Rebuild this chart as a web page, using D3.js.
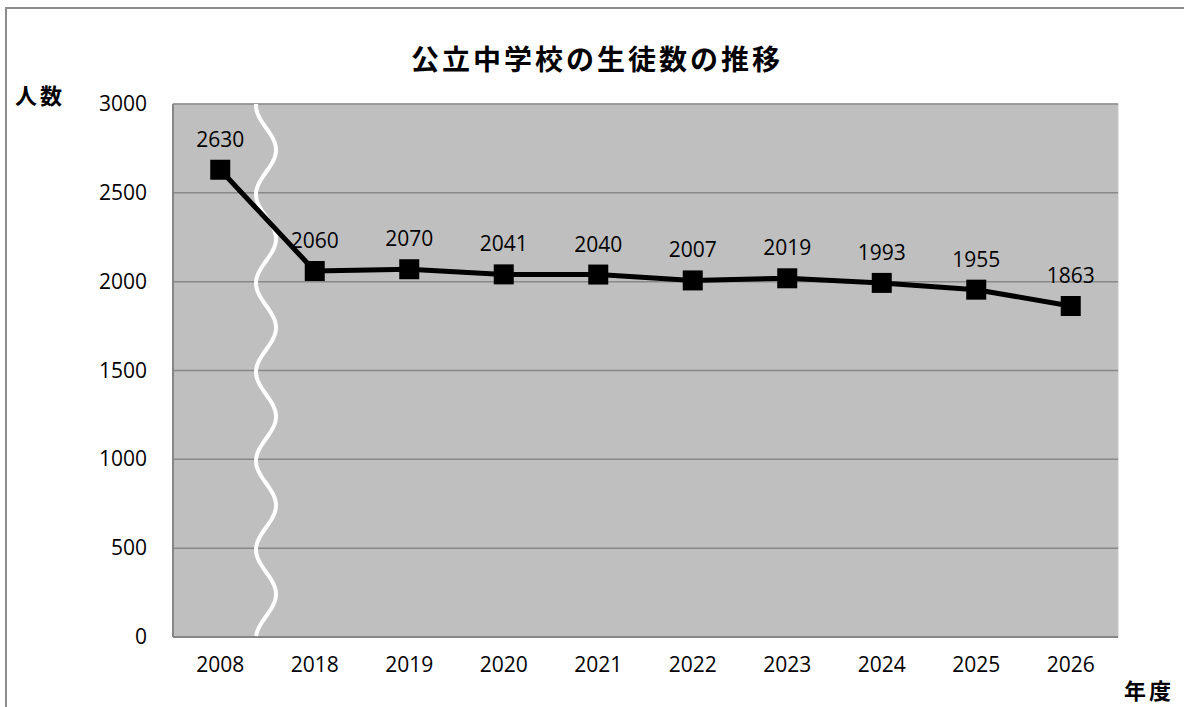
<!DOCTYPE html>
<html>
<head>
<meta charset="utf-8">
<script src="https://cdn.jsdelivr.net/npm/d3@7"></script>
<style>
  body { margin: 0; background: #fff; }
  svg { display: block; }
</style>
</head>
<body>
<svg id="chart"></svg>
<script>
// chart data
const years = ["2008", "2018", "2019", "2020", "2021", "2022", "2023", "2024", "2025", "2026"];
const students = [2630, 2060, 2070, 2041, 2040, 2007, 2019, 1993, 1955, 1863];
const yTicks = [0, 500, 1000, 1500, 2000, 2500, 3000];

const W = 1184, H = 707;
const margin = { top: 104, right: 66, bottom: 70, left: 173 };
const width = W - margin.left - margin.right;
const height = H - margin.top - margin.bottom;

const root = d3.select("#chart").attr("width", W).attr("height", H);

// outer frame (cut off on the right and bottom)
root.append("rect")
    .attr("x", 6).attr("y", 8)
    .attr("width", W + 10).attr("height", H + 10)
    .attr("fill", "none")
    .attr("stroke", "#8c8c8c")
    .attr("stroke-width", 2);

const numFont = "'Open Sans', 'Liberation Sans', sans-serif";
const jpFont = "'Noto Sans CJK JP', sans-serif";
const numSize = 21;

root.append("text")
    .attr("x", 597).attr("y", 70)
    .attr("text-anchor", "middle")
    .attr("font-family", jpFont)
    .attr("font-weight", "bold")
    .attr("font-size", 28)
    .attr("letter-spacing", 3)
    .text("公立中学校の生徒数の推移");

root.append("text")
    .attr("x", 15).attr("y", 104)
    .attr("font-family", jpFont)
    .attr("font-weight", "bold")
    .attr("font-size", 22)
    .attr("letter-spacing", 3)
    .text("人数");

root.append("text")
    .attr("x", 1124).attr("y", 699)
    .attr("font-family", jpFont)
    .attr("font-weight", "bold")
    .attr("font-size", 22)
    .attr("letter-spacing", 3)
    .text("年度");

const svg = root.append("g")
    .attr("transform", "translate(" + margin.left + "," + margin.top + ")");

const x = d3.scaleBand()
    .domain(years)
    .range([0, width]);

const y = d3.scaleLinear()
    .domain([0, 3000])
    .range([height, 0]);

// plot background
svg.append("rect")
    .attr("width", width).attr("height", height)
    .attr("fill", "#bfbfbf")
    .attr("stroke", "#c8c8c8")
    .attr("stroke-width", 1);

// gridlines
svg.selectAll(".grid")
  .data(yTicks.filter(d => d > 0))
  .enter().append("line")
    .attr("x1", 0).attr("x2", width)
    .attr("y1", d => y(d)).attr("y2", d => y(d))
    .attr("stroke", "#888")
    .attr("stroke-width", 1.5);

// left and bottom axis lines
svg.append("line")
    .attr("x1", 0).attr("x2", 0).attr("y1", 0).attr("y2", height)
    .attr("stroke", "#868686").attr("stroke-width", 2);
svg.append("line")
    .attr("x1", 0).attr("x2", width).attr("y1", height).attr("y2", height)
    .attr("stroke", "#868686").attr("stroke-width", 2);

// axis break wave between 2008 and 2018
const breakX = x("2018") - 1.5;
const period = y(0) - y(500);
const wave = d3.range(0, height + 1, 2)
    .map(py => [breakX + 10 * Math.sin(2 * Math.PI * (py - 46) / period + Math.PI / 2), py]);
svg.append("path")
    .attr("d", d3.line()(wave))
    .attr("fill", "none")
    .attr("stroke", "#fff")
    .attr("stroke-width", 4);

// y labels
svg.selectAll(".ylab")
  .data(yTicks)
  .enter().append("text")
    .attr("x", -26)
    .attr("y", d => y(d) + 7)
    .attr("text-anchor", "end")
    .attr("font-family", numFont)
    .attr("font-size", numSize)
    .text(d => d);

// x labels
svg.selectAll(".xlab")
  .data(years)
  .enter().append("text")
    .attr("x", d => x(d) + x.bandwidth() / 2)
    .attr("y", height + 35)
    .attr("text-anchor", "middle")
    .attr("font-family", numFont)
    .attr("font-size", numSize)
    .text(d => d);

// line
const cx = (d, i) => x(years[i]) + x.bandwidth() / 2;
svg.append("path")
    .attr("d", d3.line().x(cx).y(d => y(d))(students))
    .attr("fill", "none")
    .attr("stroke", "#000")
    .attr("stroke-width", 5)
    .attr("stroke-linejoin", "round");

// markers
svg.selectAll(".marker")
  .data(students)
  .enter().append("rect")
    .attr("x", (d, i) => cx(d, i) - 10)
    .attr("y", d => y(d) - 10)
    .attr("width", 20).attr("height", 20)
    .attr("fill", "#000");

// data labels
svg.selectAll(".dlab")
  .data(students)
  .enter().append("text")
    .attr("x", cx)
    .attr("y", d => y(d) - 23)
    .attr("text-anchor", "middle")
    .attr("font-family", numFont)
    .attr("font-size", numSize)
    .text(d => d);
</script>
</body>
</html>
